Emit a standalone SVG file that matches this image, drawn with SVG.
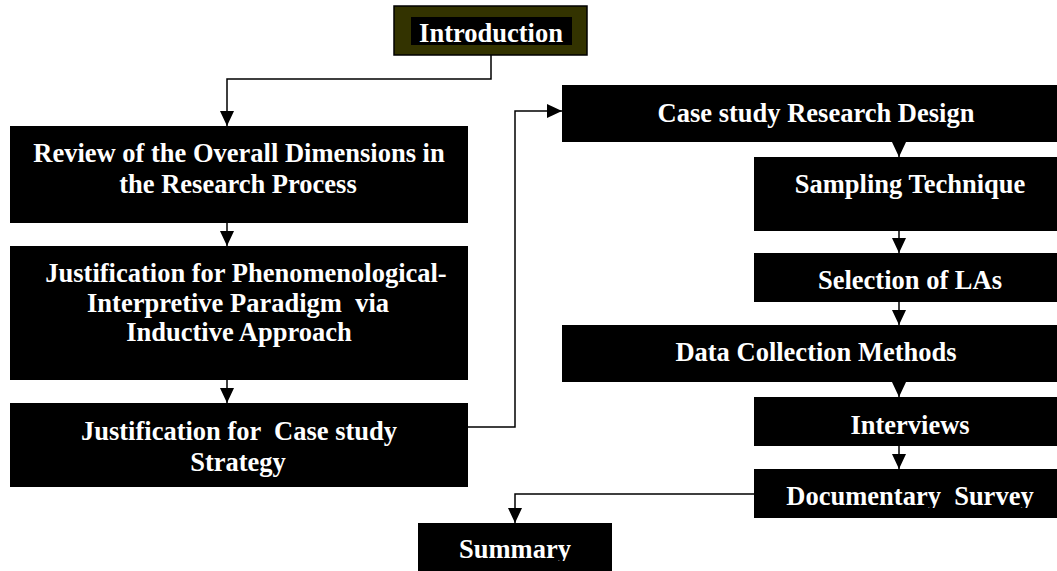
<svg xmlns="http://www.w3.org/2000/svg" width="1057" height="571" viewBox="0 0 1057 571">
  <style>
    .box { fill: #000000; }
    .lbl { font-family: "Liberation Serif", "Times New Roman", serif; font-weight: bold; font-size: 26.5px; fill: #ffffff; text-anchor: middle; white-space: pre; }
    .conn { fill: none; stroke: #000000; stroke-width: 1.5; }
  </style>
  <defs>
    <marker id="arrow" viewBox="0 0 15 14" refX="15" refY="7" markerWidth="15" markerHeight="14" markerUnits="userSpaceOnUse" orient="auto">
      <path d="M0,0 L15,7 L0,14 z" fill="#000000"/>
    </marker>
    <clipPath id="clipDoc"><rect x="754" y="469" width="303" height="39"/></clipPath>
    <clipPath id="clipSum"><rect x="418" y="523" width="194" height="38"/></clipPath>
  </defs>
  <rect width="1057" height="571" fill="#ffffff"/>

  <!-- connectors -->
  <g id="connectors">
    <path class="conn" d="M491,55 V79 H227 V126" marker-end="url(#arrow)"/>
    <path class="conn" d="M227,223 V246" marker-end="url(#arrow)"/>
    <path class="conn" d="M227,380 V403" marker-end="url(#arrow)"/>
    <path class="conn" d="M468,427 H515 V111 H562" marker-end="url(#arrow)"/>
    <path class="conn" d="M899,142 V157" marker-end="url(#arrow)"/>
    <path class="conn" d="M899,231 V253" marker-end="url(#arrow)"/>
    <path class="conn" d="M899,302 V325" marker-end="url(#arrow)"/>
    <path class="conn" d="M899,382 V397" marker-end="url(#arrow)"/>
    <path class="conn" d="M899,446 V469" marker-end="url(#arrow)"/>
    <path class="conn" d="M754,494 H515 V523" marker-end="url(#arrow)"/>
  </g>

  <!-- start node -->
  <g id="introduction">
    <rect x="394" y="6" width="193" height="49" fill="#333300" stroke="#000000" stroke-width="1.5"/>
    <rect x="411" y="17" width="161" height="28" class="box"/>
    <text class="lbl" x="491" y="42">Introduction</text>
  </g>

  <!-- left column -->
  <g id="review">
    <rect x="10" y="126" width="458" height="97" class="box"/>
    <text class="lbl" x="239" y="162">Review of the Overall Dimensions in</text>
    <text class="lbl" x="238" y="193">the Research Process</text>
  </g>
  <g id="paradigm">
    <rect x="10" y="246" width="458" height="134" class="box"/>
    <text class="lbl" x="246" y="282">Justification for Phenomenological-</text>
    <text class="lbl" x="238" y="312">Interpretive Paradigm  via</text>
    <text class="lbl" x="239" y="341">Inductive Approach</text>
  </g>
  <g id="strategy">
    <rect x="10" y="403" width="458" height="84" class="box"/>
    <text class="lbl" x="239" y="440">Justification for  Case study</text>
    <text class="lbl" x="238" y="471">Strategy</text>
  </g>

  <!-- right column -->
  <g id="design">
    <rect x="562" y="85" width="495" height="57" class="box"/>
    <text class="lbl" x="816" y="122">Case study Research Design</text>
  </g>
  <g id="sampling">
    <rect x="754" y="157" width="303" height="74" class="box"/>
    <text class="lbl" x="910" y="193">Sampling Technique</text>
  </g>
  <g id="selection">
    <rect x="754" y="253" width="303" height="49" class="box"/>
    <text class="lbl" x="910" y="289">Selection of LAs</text>
  </g>
  <g id="collection">
    <rect x="562" y="325" width="495" height="57" class="box"/>
    <text class="lbl" x="816" y="361">Data Collection Methods</text>
  </g>
  <g id="interviews">
    <rect x="754" y="397" width="303" height="49" class="box"/>
    <text class="lbl" x="910" y="434">Interviews</text>
  </g>
  <g id="documentary">
    <rect x="754" y="469" width="303" height="49" class="box"/>
    <text class="lbl" x="910" y="505" clip-path="url(#clipDoc)">Documentary  Survey</text>
  </g>

  <!-- end node -->
  <g id="summary">
    <rect x="418" y="523" width="194" height="48" class="box"/>
    <text class="lbl" x="515" y="558" clip-path="url(#clipSum)">Summary</text>
  </g>
</svg>
